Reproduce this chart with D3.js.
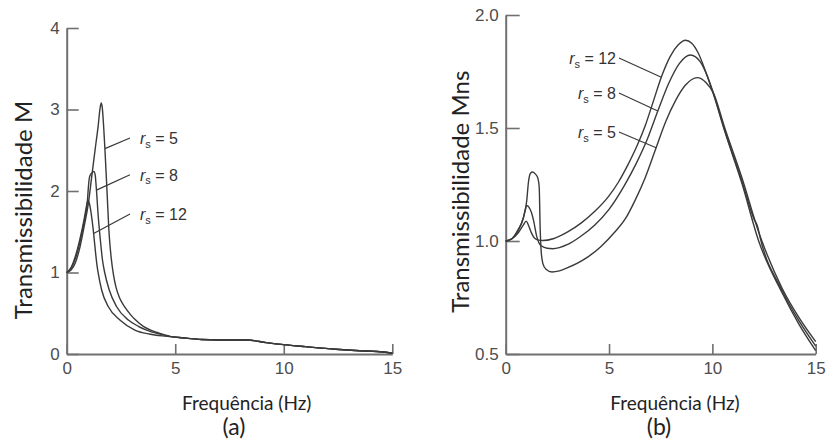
<!DOCTYPE html>
<html>
<head>
<meta charset="utf-8">
<script src="https://cdn.jsdelivr.net/npm/d3@7"></script>
<style>
  body { margin: 0; background: #fff; }
  svg { display: block; }
  .tick text { font-family: "Liberation Sans", Arial, sans-serif; font-size: 17px; fill: #4d4d4d; }
  .title { font-family: Lato, "Open Sans", sans-serif; fill: #222; }
  .rs { font-family: "Liberation Sans", Arial, sans-serif; font-size: 16px; fill: #333; }
</style>
</head>
<body>
<svg id="chart" width="828" height="441"></svg>
<script>
// ---- data ---------------------------------------------------------------
// Shaker tests: ratio r_s = 5, 8, 12 ; points are [frequency Hz, value]
const rsValues = [5, 8, 12];

// (a) transmissibility M
const seriesA_rs5 = [[0,1.0],[0.2,1.03],[0.4,1.12],[0.6,1.3],[0.8,1.56],[1.0,1.85],[1.15,2.17],[1.3,2.49],[1.45,2.8],[1.54,3.02],[1.59,3.08],[1.64,3.02],[1.7,2.8],[1.76,2.52],[1.86,1.98],[1.96,1.45],[2.05,1.18],[2.15,0.98],[2.27,0.82],[2.45,0.68],[2.68,0.575],[2.95,0.48],[3.14,0.425],[3.55,0.335],[3.99,0.28],[4.5,0.235],[4.8,0.213],[5.5,0.195],[6.2,0.178],[7.0,0.172],[8.3,0.172],[9.2,0.14],[10.0,0.115],[11.0,0.09],[12.4,0.058],[13.5,0.04],[14.3,0.03],[15,0.01]];
const seriesA_rs8 = [[0,1.0],[0.2,1.05],[0.4,1.17],[0.6,1.36],[0.8,1.62],[0.95,1.86],[1.0,2.05],[1.05,2.17],[1.15,2.22],[1.25,2.24],[1.31,2.2],[1.36,2.05],[1.45,1.7],[1.55,1.4],[1.65,1.15],[1.75,1.0],[1.96,0.785],[2.3,0.58],[2.84,0.417],[3.3,0.34],[3.68,0.294],[4.2,0.25],[4.8,0.213],[5.5,0.195],[6.2,0.178],[7.0,0.172],[8.3,0.172],[9.2,0.14],[10.0,0.115],[11.0,0.09],[12.4,0.058],[13.5,0.04],[14.3,0.03],[15,0.01]];
const seriesA_rs12 = [[0,1.0],[0.2,1.06],[0.4,1.2],[0.6,1.4],[0.8,1.65],[0.93,1.84],[0.98,1.89],[1.05,1.84],[1.13,1.72],[1.22,1.53],[1.3,1.32],[1.39,1.1],[1.46,0.98],[1.61,0.785],[1.92,0.58],[2.45,0.417],[3.14,0.294],[3.8,0.245],[4.4,0.222],[4.8,0.213],[5.5,0.195],[6.2,0.178],[7.0,0.172],[8.3,0.172],[9.2,0.14],[10.0,0.115],[11.0,0.09],[12.4,0.058],[13.5,0.04],[14.3,0.03],[15,0.01]];

// (b) transmissibility Mns
const seriesB_rs5 = [[0,1.0],[0.3,1.01],[0.6,1.05],[0.85,1.1],[1.02,1.18],[1.1,1.26],[1.2,1.3],[1.3,1.305],[1.45,1.295],[1.55,1.28],[1.62,1.24],[1.67,1.05],[1.72,0.95],[1.8,0.9],[1.95,0.875],[2.24,0.863],[2.6,0.868],[3.0,0.882],[3.98,0.93],[4.6,0.975],[5.28,1.04],[5.8,1.1],[6.26,1.18],[6.75,1.28],[7.23,1.4],[7.75,1.53],[8.21,1.62],[8.7,1.69],[9.27,1.723],[9.7,1.7],[10.05,1.655],[10.6,1.5],[11.43,1.28],[12.24,1.04],[13.38,0.79],[14.2,0.66],[15,0.555]];
const seriesB_rs8 = [[0,1.0],[0.3,1.01],[0.6,1.045],[0.86,1.105],[0.95,1.14],[1.02,1.157],[1.12,1.15],[1.25,1.125],[1.35,1.09],[1.51,1.017],[1.7,0.98],[2.0,0.968],[2.27,0.966],[3.0,0.985],[3.62,1.02],[4.3,1.07],[5.0,1.14],[5.74,1.245],[6.3,1.34],[6.85,1.45],[7.36,1.575],[7.9,1.7],[8.4,1.785],[8.94,1.823],[9.4,1.795],[9.72,1.738],[10.05,1.655],[10.6,1.49],[11.43,1.265],[12.0,1.1],[12.2,1.06],[12.3,1.02],[13.38,0.78],[14.2,0.645],[15,0.535]];
const seriesB_rs12 = [[0,1.0],[0.3,1.01],[0.6,1.035],[0.85,1.07],[0.99,1.088],[1.1,1.07],[1.25,1.035],[1.4,1.012],[1.6,1.004],[1.8,1.002],[2.3,1.01],[3.0,1.04],[3.66,1.08],[4.3,1.13],[4.96,1.195],[5.45,1.26],[5.93,1.34],[6.35,1.42],[6.75,1.51],[7.15,1.62],[7.55,1.73],[7.95,1.815],[8.35,1.868],[8.7,1.888],[9.0,1.875],[9.31,1.833],[9.72,1.738],[10.05,1.65],[10.6,1.485],[11.43,1.255],[12.24,1.0],[13.38,0.77],[14.2,0.63],[15,0.515]];

// axis ticks
const xTicks = [0, 5, 10, 15];
const yTicksA = [0, 1, 2, 3, 4];
const yTicksB = [0.5, 1.0, 1.5, 2.0];

// frequency where each r_s leader line meets its curve
const leaderFreqA = [1.76, 1.37, 1.24];
const leaderFreqB = [7.28, 7.36, 7.53];

// ---- drawing ------------------------------------------------------------
const svg = d3.select("#chart");
const axisColor = "#707070";
const curveColor = "#3a3a3a";

// value of a piecewise-linear series at frequency f
function valueAt(series, f) {
  for (let i = 1; i < series.length; i++) {
    const [f0, v0] = series[i - 1], [f1, v1] = series[i];
    if (f <= f1) return v0 + (v1 - v0) * (f - f0) / (f1 - f0);
  }
  return series[series.length - 1][1];
}

function drawPanel(cfg) {
  const g = svg.append("g");
  const x = d3.scaleLinear().domain([0, 15]).range(cfg.xRange);
  const y = d3.scaleLinear().domain(cfg.yDomain).range(cfg.yRange);

  const yAxis = d3.axisLeft(y).tickValues(cfg.yTicks).tickFormat(cfg.yFormat)
    .tickSizeInner(-cfg.yTickLen).tickSizeOuter(0).tickPadding(7);
  const xAxis = d3.axisBottom(x).tickValues(xTicks).tickFormat(d3.format("d"))
    .tickSizeInner(-10).tickSizeOuter(0).tickPadding(8);

  const ya = g.append("g").attr("transform", `translate(${cfg.xRange[0]},0)`).call(yAxis);
  const xa = g.append("g").attr("transform", `translate(0,${cfg.yRange[0]})`).call(xAxis);
  [ya, xa].forEach(a => {
    a.select(".domain").attr("stroke", axisColor).attr("stroke-width", 2);
    a.selectAll(".tick line").attr("stroke", axisColor).attr("stroke-width", 1.6);
  });

  const line = d3.line().x(d => x(d[0])).y(d => y(d[1])).curve(d3.curveMonotoneX);
  g.selectAll("path.curve").data(cfg.series).join("path")
    .attr("class", "curve")
    .attr("d", line)
    .attr("fill", "none")
    .attr("stroke", curveColor)
    .attr("stroke-width", 1.4);

  // r_s labels with leader lines
  cfg.series.forEach((s, i) => {
    const rs = cfg.rsOrder[i];
    const base = cfg.labelBase[i];
    const f = cfg.leaderFreq[i];
    g.append("line")
      .attr("x1", cfg.leaderX).attr("y1", base - 6)
      .attr("x2", x(f)).attr("y2", y(valueAt(s, f)))
      .attr("stroke", curveColor).attr("stroke-width", 1.2);
    const t = g.append("text").attr("class", "rs")
      .attr("x", cfg.labelX).attr("y", base)
      .attr("text-anchor", cfg.labelAnchor);
    t.append("tspan").attr("font-style", "italic").text("r");
    t.append("tspan").attr("font-size", 11).attr("dy", 3.5).text("s");
    t.append("tspan").attr("dy", -3.5).text("\u00a0= " + rs);
  });

  // axis titles and panel letter
  g.append("text").attr("class", "title")
    .attr("transform", `translate(${cfg.yTitlePos[0]},${cfg.yTitlePos[1]}) rotate(-90)`)
    .attr("text-anchor", "middle").attr("font-size", 24)
    .text(cfg.yTitle);
  g.append("text").attr("class", "title")
    .attr("x", cfg.xTitleX).attr("y", 410)
    .attr("text-anchor", "middle").attr("font-size", 19)
    .text("Frequência (Hz)");
  g.append("text").attr("class", "title")
    .attr("x", cfg.letterX).attr("y", 435)
    .attr("text-anchor", "middle").attr("font-size", 23)
    .text(cfg.letter);
}

drawPanel({
  xRange: [66.7, 392.3],
  yDomain: [0, 4], yRange: [354, 28],
  yTicks: yTicksA, yFormat: d3.format("d"), yTickLen: 12,
  series: [seriesA_rs5, seriesA_rs8, seriesA_rs12],
  rsOrder: [5, 8, 12],
  leaderFreq: leaderFreqA,
  labelX: 140, labelAnchor: "start", leaderX: 130,
  labelBase: [144, 180.7, 220],
  yTitle: "Transmissibilidade M", yTitlePos: [31.5, 210],
  xTitleX: 246.7, letterX: 234, letter: "(a)"
});

drawPanel({
  xRange: [505.7, 815.7],
  yDomain: [0.5, 2.0], yRange: [354, 15],
  yTicks: yTicksB, yFormat: d3.format(".1f"), yTickLen: 14,
  series: [seriesB_rs12, seriesB_rs8, seriesB_rs5],
  rsOrder: [12, 8, 5],
  leaderFreq: [leaderFreqB[2], leaderFreqB[1], leaderFreqB[0]],
  labelX: 616, labelAnchor: "end", leaderX: 619,
  labelBase: [64, 99, 138],
  yTitle: "Transmissibilidade Mns", yTitlePos: [469, 191.7],
  xTitleX: 675, letterX: 659, letter: "(b)"
});
</script>
</body>
</html>
